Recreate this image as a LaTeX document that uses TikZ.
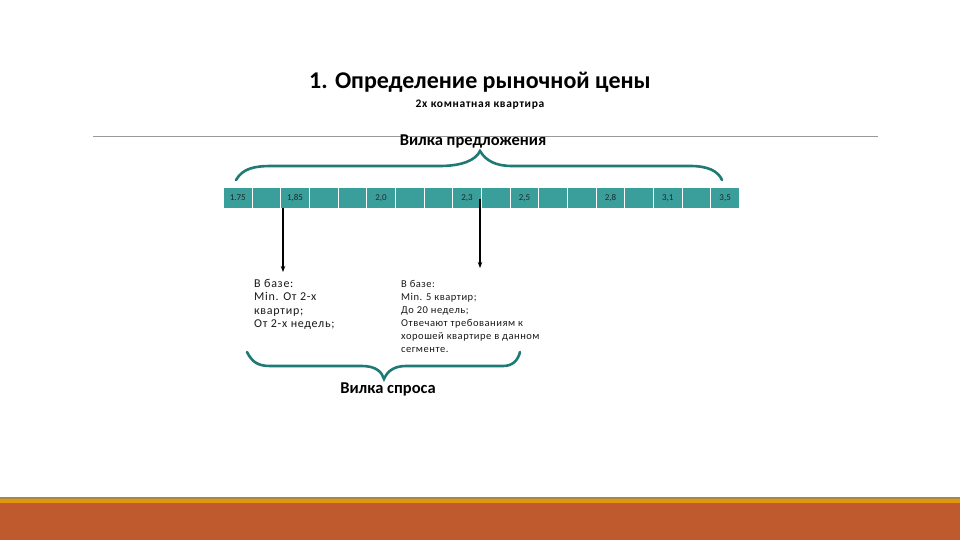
\documentclass[tikz,border=0pt]{standalone}
\usepackage{fontspec}
\setmainfont{Carlito}
\usetikzlibrary{arrows.meta}
\definecolor{cellteal}{HTML}{3A9E9A}
\definecolor{bracec}{HTML}{1F7A75}
\definecolor{rust}{HTML}{BE5A2D}
\definecolor{gold}{HTML}{E0960F}
\definecolor{olive}{HTML}{A88A3A}
\tikzset{
  cellbox/.style={fill=cellteal, draw=white, line width=0.8pt, minimum width=28.67pt, minimum height=21pt, inner sep=0pt, anchor=north west},
  celllab/.style={font=\fontsize{9}{10}\selectfont, text=black!85, inner sep=0pt},
  bracestyle/.style={draw=bracec, line width=2.6pt, line cap=round},
  pointer/.style={draw=black, line width=2.6pt, -{Stealth[length=6pt,width=4.5pt]}},
  note/.style={align=left, anchor=north west, inner sep=0pt, text=black!90}
}
\begin{document}
\begin{tikzpicture}[x=1pt,y=-1pt]
\useasboundingbox (0,0) rectangle (960,540);
\fill[white] (0,0) rectangle (960,540);
% bottom bar
\fill[rust] (0,502) rectangle (960,540);
\fill[olive] (0,497) rectangle (960,499);
\fill[gold] (0,499) rectangle (960,503);
% title
\node[font=\fontsize{24}{28}\selectfont\bfseries] (title) at (480,82) {1. Определение рыночной цены};
\node[font=\fontsize{11.5}{13}\selectfont\bfseries\addfontfeatures{LetterSpace=6}] (sub) at (480,105) {2х комнатная квартира};
% gray rule
\coordinate (rl) at (93,136);
\coordinate (rr) at (878,136);
\draw[gray!80, line width=0.9pt] (rl) -- (rr);
\node[font=\fontsize{16.5}{18}\selectfont\bfseries, inner sep=0pt] (supply) at (473,141) {Вилка предложения};
% top brace
\draw[bracestyle] (236,180) .. controls (243,168) and (255,166) .. (272,166)
  -- (440,166) .. controls (462,166) and (476,160) .. (480,151)
  .. controls (486,161) and (496,166) .. (512,166)
  -- (690,166) .. controls (708,166) and (718,171) .. (722,180);
% cells
\foreach \i in {0,...,17} {
  \node[cellbox] (c\i) at (223+\i*28.67,187) {};
}
\node[celllab] (l0) at (c0.center) {1.75};
\node[celllab] (l2) at (c2.center) {1,85};
\node[celllab] (l5) at (c5.center) {2,0};
\node[celllab] (l8) at (c8.center) {2,3};
\node[celllab] (l10) at (c10.center) {2,5};
\node[celllab] (l13) at (c13.center) {2,8};
\node[celllab] (l15) at (c15.center) {3,1};
\node[celllab] (l17) at (c17.center) {3,5};
% arrows
\coordinate (a1s) at (283,208);
\coordinate (a1e) at (283,272);
\coordinate (a2s) at (480,199);
\coordinate (a2e) at (480,268);
\draw[pointer] (a1s) -- (a1e);
\draw[pointer] (a2s) -- (a2e);
% notes
\node[note, font=\fontsize{12}{13.5}\selectfont\addfontfeatures{LetterSpace=6}] (n1) at (254,279) {В базе:\\Min. От 2-х\\квартир;\\От 2-х недель;};
\node[note, font=\fontsize{10.5}{13}\selectfont\addfontfeatures{LetterSpace=5}] (n2) at (401,280) {В базе:\\Min. 5 квартир;\\До 20 недель;\\Отвечают требованиям к\\хорошей квартире в данном\\сегменте.};
% bottom brace
\draw[bracestyle] (247,352) .. controls (252,362) and (258,366) .. (270,366)
  -- (362,366) .. controls (376,366) and (382,372) .. (384,379)
  .. controls (387,372) and (393,366) .. (406,366)
  -- (503,366) .. controls (513,366) and (518,360) .. (520,352);
\node[font=\fontsize{16.5}{18}\selectfont\bfseries] (demand) at (388,389) {Вилка спроса};
\end{tikzpicture}
\end{document}
